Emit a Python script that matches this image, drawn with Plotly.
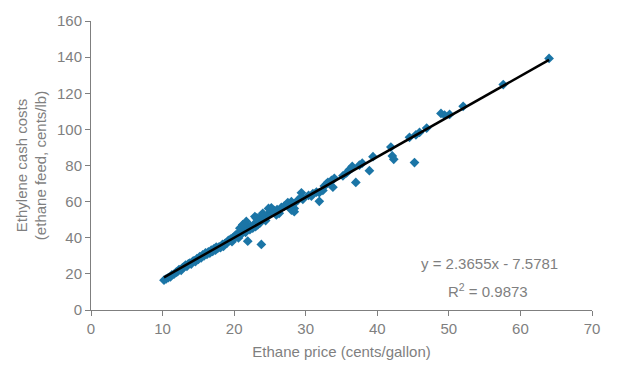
import numpy as np
import plotly.graph_objects as go

ethane_price = [
    10.2, 10.5, 10.8, 11.1, 11.3, 11.6, 11.9, 12.1, 12.3, 12.6, 12.8, 13.0, 13.2, 13.4,
    13.6, 13.8, 14.0, 14.2, 14.4, 14.6, 14.8, 15.0, 15.2, 15.4, 15.6, 15.8, 16.0, 16.2,
    16.4, 16.6, 16.8, 17.0, 17.2, 17.4, 17.5, 17.7, 17.9, 18.1, 18.3, 18.5, 18.7, 19.0,
    19.2, 19.5, 19.7, 20.0, 20.2, 20.5, 20.6, 21.0, 21.3, 21.6, 22.0, 22.3, 22.8, 23.0,
    23.5, 24.2, 24.6, 25.0, 25.6, 26.0, 26.6, 27.0, 27.5, 28.0,
    18.4, 18.9, 19.4, 19.8, 20.3, 20.8, 21.0, 20.8, 21.2, 21.7, 21.9, 23.8,
    22.2, 22.6, 23.3, 23.6, 22.9, 23.3, 23.8, 24.0, 23.1, 24.4,
    25.9, 26.3, 25.4, 24.8, 25.2, 28.4, 28.0, 28.4, 27.3, 27.7, 28.4, 28.9,
    29.6, 29.4, 29.4, 31.9, 30.4, 30.8, 31.0, 31.5, 31.9, 32.4, 33.8, 32.6,
    32.9, 33.1, 33.6, 34.0, 35.2, 35.7, 36.1, 36.4, 36.5, 37.0, 38.9, 37.5,
    37.9, 39.4, 45.2, 42.3, 42.1, 41.9, 44.5, 45.4, 45.9, 46.9, 50.1, 49.4,
    48.9, 52.0, 57.6, 64.0,
]
ethylene_cost = [
    16.5, 17.2, 17.9, 18.4, 19.5, 19.8, 20.9, 21.3, 22.4, 22.0, 23.5, 23.9, 24.8, 24.2,
    25.6, 26.0, 25.4, 26.9, 27.3, 26.8, 28.4, 28.0, 29.6, 28.9, 30.5, 30.0, 31.6, 30.8,
    32.2, 31.5, 33.1, 32.4, 34.0, 33.2, 34.8, 34.1, 35.0, 34.6, 35.9, 35.2, 36.8, 37.0,
    38.6, 39.2, 37.8, 40.1, 41.5, 42.3, 39.9, 42.0, 44.2, 43.0, 45.6, 46.3, 47.5, 46.2,
    49.8, 50.6, 52.5, 53.3, 55.0, 55.6, 56.8, 57.5, 59.5, 60.0,
    36.3, 37.2, 38.5, 39.9, 40.8, 41.7, 43.5, 45.3, 47.2, 49.0, 38.1, 36.3,
    44.5, 45.3, 47.2, 48.1, 51.7, 50.8, 51.7, 53.5, 50.8, 49.5,
    52.6, 53.5, 54.4, 56.2, 56.6, 54.4, 55.3, 56.2, 58.1, 57.1, 58.9, 60.8,
    61.3, 62.6, 64.9, 60.2, 63.5, 63.1, 64.4, 65.3, 65.0, 66.2, 68.0, 68.6,
    69.8, 70.7, 71.7, 72.9, 74.3, 75.9, 77.7, 78.4, 79.5, 70.6, 77.1, 80.2,
    81.3, 84.9, 81.6, 83.4, 85.3, 90.2, 95.6, 97.0, 98.3, 100.7, 108.3, 107.9,
    108.8, 112.8, 124.8, 139.3,
]

x_ticks = [0, 10, 20, 30, 40, 50, 60, 70]
y_ticks = [0, 20, 40, 60, 80, 100, 120, 140, 160]
equation_text = "y = 2.3655x - 7.5781"
r2_text = "R<sup>2</sup> = 0.9873"

xa = np.array(ethane_price)
ya = np.array(ethylene_cost)
slope, intercept = np.polyfit(xa, ya, 1)
fit_x = [float(xa.min()), float(xa.max())]
fit_y = [slope * v + intercept for v in fit_x]

grey = "#7f7f7f"
font = "Liberation Sans, Arial, sans-serif"

fig = go.Figure()
fig.add_trace(go.Scatter(
    x=ethane_price, y=ethylene_cost, mode="markers",
    marker=dict(symbol="diamond", size=7.5, color="#1B75A6", line=dict(width=0)),
    showlegend=False, hoverinfo="x+y",
))
fig.add_trace(go.Scatter(
    x=fit_x, y=fit_y, mode="lines",
    line=dict(color="black", width=2.5),
    showlegend=False, hoverinfo="skip",
))

fig.add_annotation(x=0.796, y=0.16, xref="paper", yref="paper",
                   xanchor="center", yanchor="middle",
                   text=equation_text, showarrow=False,
                   font=dict(size=15, color=grey, family=font))
fig.add_annotation(x=0.793, y=0.068, xref="paper", yref="paper",
                   xanchor="center", yanchor="middle",
                   text=r2_text, showarrow=False,
                   font=dict(size=15, color=grey, family=font))

fig.update_layout(
    width=625, height=377,
    margin=dict(l=91, r=33, t=16, b=67),
    paper_bgcolor="white", plot_bgcolor="white",
    font=dict(family=font, size=15, color=grey),
    xaxis=dict(
        range=[0, 70], tickvals=x_ticks, ticktext=[str(v) for v in x_ticks],
        showgrid=False, zeroline=False, showline=True, linecolor=grey, linewidth=1,
        ticks="outside", ticklen=5, tickcolor=grey,
        title=dict(text="Ethane price (cents/gallon)", standoff=10,
                   font=dict(size=15, color=grey)),
        tickfont=dict(size=15, color=grey),
    ),
    yaxis=dict(
        range=[0, 160], tickvals=y_ticks, ticktext=[str(v) for v in y_ticks],
        showgrid=False, zeroline=False, showline=True, linecolor=grey, linewidth=1,
        ticks="outside", ticklen=5, tickcolor=grey,
        title=dict(text="Ethylene cash costs<br>(ethane feed, cents/lb)", standoff=6,
                   font=dict(size=15, color=grey)),
        tickfont=dict(size=15, color=grey),
    ),
)

fig.write_html("out.html")
